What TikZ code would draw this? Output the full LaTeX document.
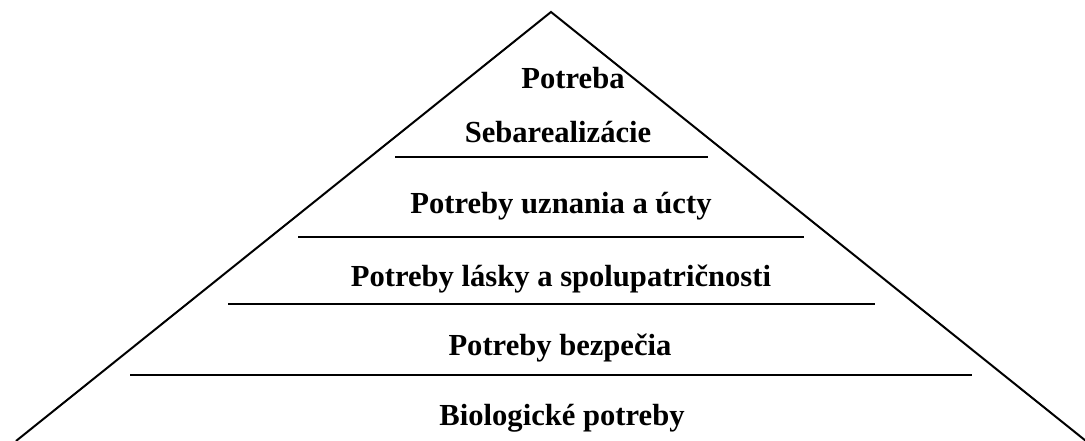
\documentclass[tikz,border=0pt]{standalone}
\usepackage{fontspec}
\setmainfont{Liberation Serif}
\usepackage{tikz}
\usetikzlibrary{positioning}
\tikzset{
  levellabel/.style={anchor=base,inner sep=0pt,font=\fontsize{30.6}{36}\selectfont\bfseries},
  pyramidside/.style={draw=black,line width=2pt},
  divider/.style={draw=black,line width=2.3pt}
}
\begin{document}
\begin{tikzpicture}[x=1pt,y=-1pt]
  \useasboundingbox (0,0) rectangle (1085,441);
  % outline of the pyramid
  \coordinate (apex) at (551,12);
  \coordinate (baseL) at (16,441);
  \coordinate (baseR) at (1086,441);
  \draw[pyramidside] (baseL) -- (apex) -- (baseR);
  % dividing lines
  \coordinate (d1L) at (395,157); \coordinate (d1R) at (708,157);
  \coordinate (d2L) at (298,237); \coordinate (d2R) at (804,237);
  \coordinate (d3L) at (228,304); \coordinate (d3R) at (875,304);
  \coordinate (d4L) at (130,375); \coordinate (d4R) at (972,375);
  \draw[divider] (d1L) -- (d1R);
  \draw[divider] (d2L) -- (d2R);
  \draw[divider] (d3L) -- (d3R);
  \draw[divider] (d4L) -- (d4R);
  % levels
  \node[levellabel] (selfA) at (573,89) {Potreba};
  \node[levellabel] (selfB) at (558,143) {Sebarealizácie};
  \node[levellabel] (esteem) at (561,213) {Potreby uznania a úcty};
  \node[levellabel] (love) at (561,286) {Potreby lásky a spolupatričnosti};
  \node[levellabel] (safety) at (560,355) {Potreby bezpečia};
  \node[levellabel] (bio) at (562,425) {Biologické potreby};
\end{tikzpicture}
\end{document}
